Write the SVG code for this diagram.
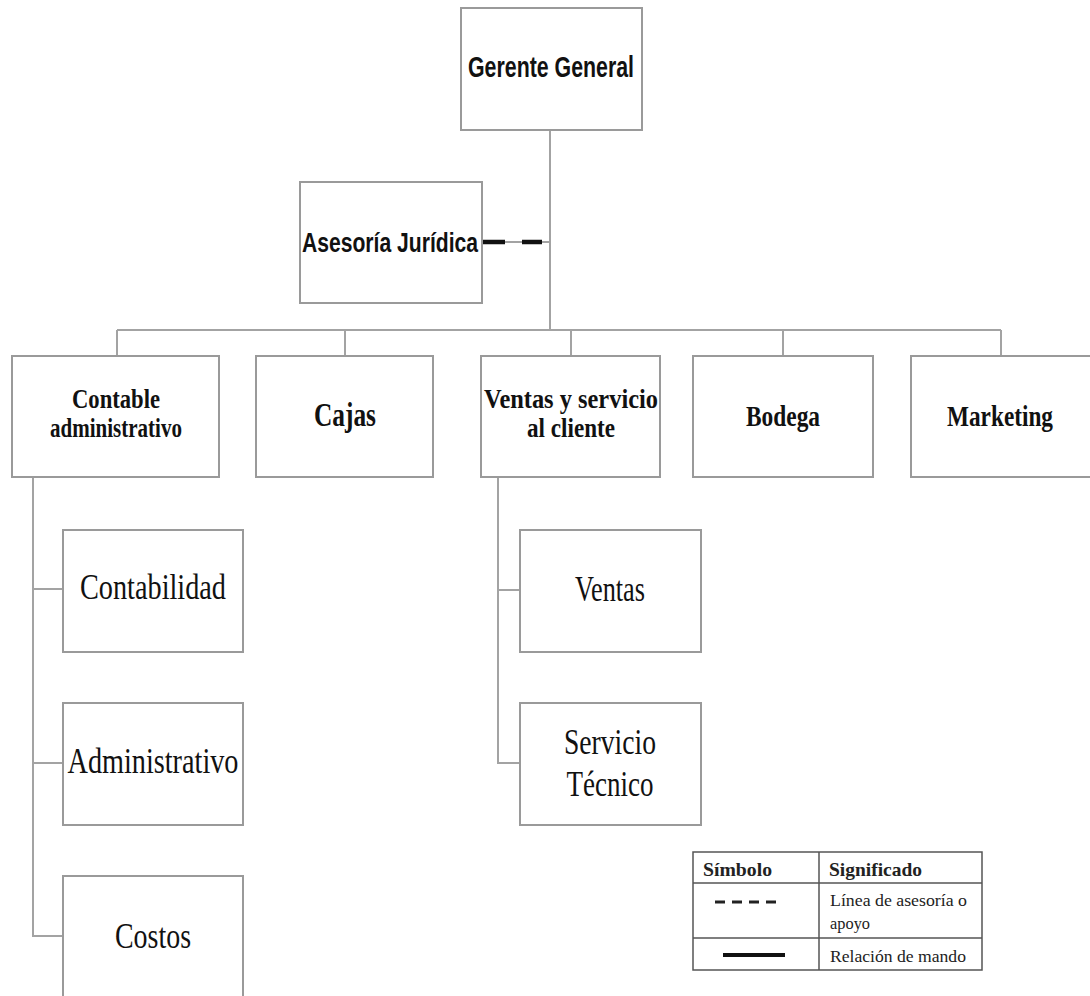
<svg xmlns="http://www.w3.org/2000/svg" width="1090" height="996" viewBox="0 0 1090 996">
  <style>
    .box { fill: #ffffff; stroke: #9a9a9a; stroke-width: 2; }
    .link { fill: none; stroke: #a3a3a3; stroke-width: 2; }
    .sans { font-family: "Liberation Sans Narrow", "Liberation Sans", Arial, sans-serif; font-weight: bold; fill: #111; }
    .bold { font-family: "Liberation Serif", "Times New Roman", serif; font-weight: bold; fill: #111; }
    .reg { font-family: "Liberation Serif", "Times New Roman", serif; fill: #111; }
    .leg { font-family: "Liberation Serif", "Times New Roman", serif; fill: #222; }
    .grid { fill: none; stroke: #555; stroke-width: 1.5; }
  </style>
  <rect width="1090" height="996" fill="#ffffff"/>

  <!-- connectors -->
  <g id="connectors">
    <path class="link" d="M550 130 V330"/>
    <path class="link" d="M117 330 H1001"/>
    <path class="link" d="M117 330 V356 M345 330 V356 M571 330 V356 M783 330 V356 M1001 330 V356"/>
    <!-- advisory line -->
    <path class="link" d="M482 242 H550"/>
    <path d="M483 242 H505 M522 242 H542" stroke="#111" stroke-width="4.5" fill="none"/>
    <!-- sub-branches of Contable administrativo -->
    <path class="link" d="M33 477 V936 H63 M33 589 H63 M33 763 H63"/>
    <!-- sub-branches of Ventas y servicio al cliente -->
    <path class="link" d="M498 477 V763 H520 M498 590 H520"/>
  </g>

  <g id="gerente">
    <rect class="box" x="461" y="8" width="181" height="122"/>
    <text class="sans" x="551" y="77" font-size="29" text-anchor="middle" textLength="166" lengthAdjust="spacingAndGlyphs">Gerente General</text>
  </g>

  <g id="asesoria">
    <rect class="box" x="300" y="182" width="182" height="121"/>
    <text class="sans" x="390" y="252" font-size="28" text-anchor="middle" textLength="176" lengthAdjust="spacingAndGlyphs">Asesoría Jurídica</text>
  </g>

  <g id="contable">
    <rect class="box" x="12" y="356" width="207" height="121"/>
    <text class="bold" x="116" y="408" font-size="27" text-anchor="middle" textLength="88" lengthAdjust="spacingAndGlyphs">Contable</text>
    <text class="bold" x="116" y="437" font-size="27" text-anchor="middle" textLength="132" lengthAdjust="spacingAndGlyphs">administrativo</text>
  </g>

  <g id="cajas">
    <rect class="box" x="256" y="356" width="177" height="121"/>
    <text class="bold" x="345" y="426" font-size="33" text-anchor="middle" textLength="62" lengthAdjust="spacingAndGlyphs">Cajas</text>
  </g>

  <g id="ventas-servicio">
    <rect class="box" x="481" y="356" width="179" height="121"/>
    <text class="bold" x="571" y="408" font-size="27" text-anchor="middle" textLength="174" lengthAdjust="spacingAndGlyphs">Ventas y servicio</text>
    <text class="bold" x="571" y="437" font-size="27" text-anchor="middle" textLength="88" lengthAdjust="spacingAndGlyphs">al cliente</text>
  </g>

  <g id="bodega">
    <rect class="box" x="693" y="356" width="180" height="121"/>
    <text class="bold" x="783" y="426" font-size="30" text-anchor="middle" textLength="74" lengthAdjust="spacingAndGlyphs">Bodega</text>
  </g>

  <g id="marketing">
    <rect class="box" x="911" y="356" width="190" height="121"/>
    <text class="bold" x="1000" y="426" font-size="30" text-anchor="middle" textLength="106" lengthAdjust="spacingAndGlyphs">Marketing</text>
  </g>

  <g id="contabilidad">
    <rect class="box" x="63" y="530" width="180" height="122"/>
    <text class="reg" x="153" y="599" font-size="36" text-anchor="middle" textLength="146" lengthAdjust="spacingAndGlyphs">Contabilidad</text>
  </g>

  <g id="administrativo">
    <rect class="box" x="63" y="703" width="180" height="122"/>
    <text class="reg" x="153" y="773" font-size="36" text-anchor="middle" textLength="171" lengthAdjust="spacingAndGlyphs">Administrativo</text>
  </g>

  <g id="costos">
    <path class="box" d="M63 1000 V876 H243 V1000"/>
    <text class="reg" x="153" y="948" font-size="36" text-anchor="middle" textLength="76" lengthAdjust="spacingAndGlyphs">Costos</text>
  </g>

  <g id="ventas">
    <rect class="box" x="520" y="530" width="181" height="122"/>
    <text class="reg" x="610" y="601" font-size="36" text-anchor="middle" textLength="70" lengthAdjust="spacingAndGlyphs">Ventas</text>
  </g>

  <g id="servicio-tecnico">
    <rect class="box" x="520" y="703" width="181" height="122"/>
    <text class="reg" x="610" y="754" font-size="36" text-anchor="middle" textLength="92" lengthAdjust="spacingAndGlyphs">Servicio</text>
    <text class="reg" x="610" y="796" font-size="36" text-anchor="middle" textLength="87" lengthAdjust="spacingAndGlyphs">Técnico</text>
  </g>

  <!-- legend table -->
  <g id="legend">
    <rect class="grid" x="693" y="852" width="289" height="118"/>
    <path class="grid" d="M819 852 V970 M693 883 H982 M693 938 H982"/>
    <text class="leg" x="703" y="876" font-size="19" font-weight="bold" textLength="69" lengthAdjust="spacingAndGlyphs">Símbolo</text>
    <text class="leg" x="829" y="876" font-size="19" font-weight="bold" textLength="93" lengthAdjust="spacingAndGlyphs">Significado</text>
    <path d="M715 902 H777" stroke="#222" stroke-width="3" stroke-dasharray="10 7" fill="none"/>
    <text class="leg" x="830" y="906" font-size="17" textLength="137" lengthAdjust="spacingAndGlyphs">Línea de asesoría o</text>
    <text class="leg" x="830" y="929" font-size="17" textLength="40" lengthAdjust="spacingAndGlyphs">apoyo</text>
    <path d="M723 955 H785" stroke="#111" stroke-width="4" fill="none"/>
    <text class="leg" x="830" y="962" font-size="17" textLength="136" lengthAdjust="spacingAndGlyphs">Relación de mando</text>
  </g>
</svg>
